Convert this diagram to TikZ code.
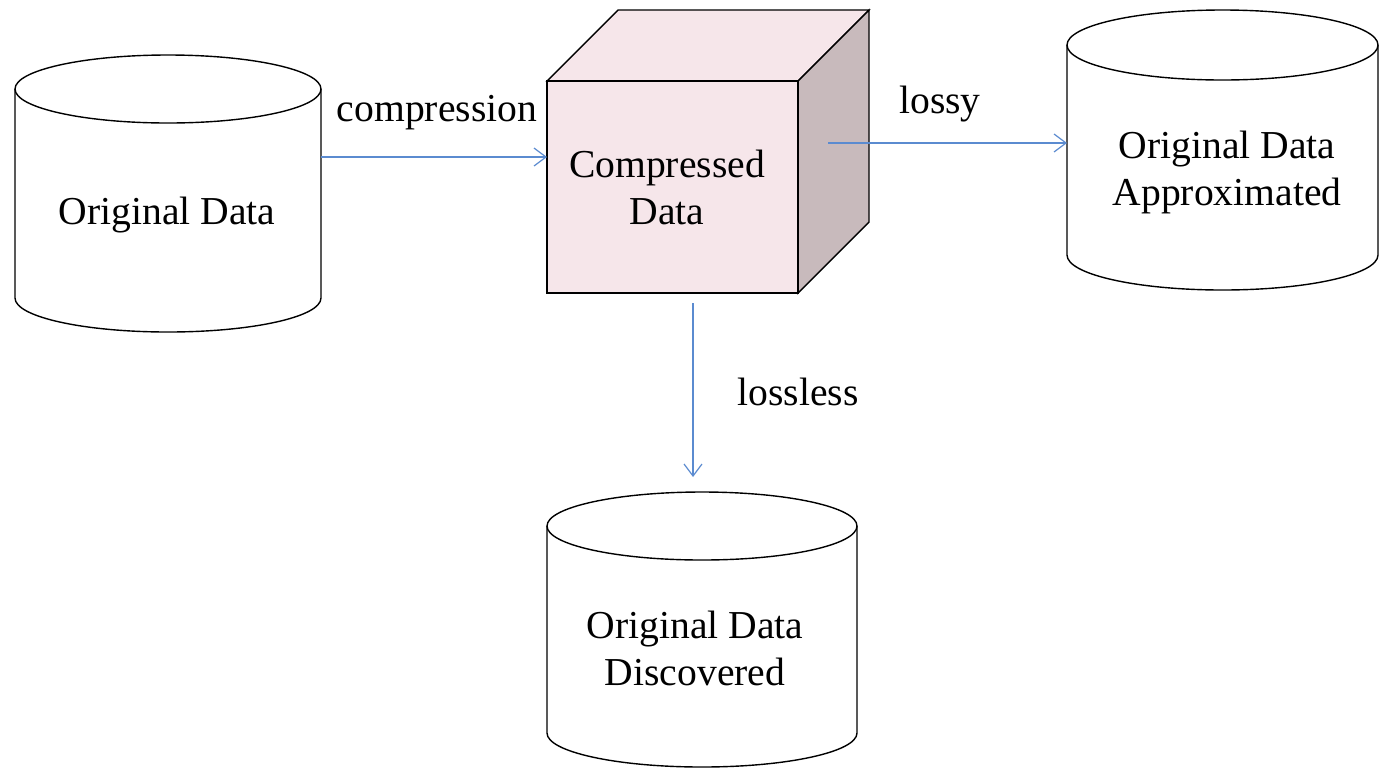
\documentclass[tikz,border=0pt]{standalone}
\usepackage{fontspec}
\setmainfont{Liberation Serif}
\usetikzlibrary{arrows.meta}
\definecolor{arrowblue}{HTML}{5B8BD0}
\definecolor{frontpink}{HTML}{F6E6EA}
\definecolor{sidegray}{HTML}{C8BABC}
\tikzset{
  txt/.style={align=center, inner sep=0pt, font=\fontsize{19.8}{23.5}\selectfont},
  outline/.style={draw=black, line width=0.7pt},
  flow/.style={draw=arrowblue, line width=0.6pt, -{Straight Barb[length=6pt,width=9pt]}},
}
\begin{document}
\begin{tikzpicture}[x=0.5pt,y=-0.5pt]
\useasboundingbox (0,0) rectangle (1380,767);
\fill[white] (0,0) rectangle (1380,767);
% cylinder 1
\draw[outline, fill=white] (15,89) -- (15,298) arc[start angle=180,end angle=0,x radius=153,y radius=34] -- (321,89);
\draw[outline] (168,89) ellipse [x radius=153, y radius=34];
% cylinder 2
\draw[outline, fill=white] (1067,45) -- (1067,255) arc[start angle=180,end angle=0,x radius=155.5,y radius=35] -- (1378,45);
\draw[outline] (1222.5,45) ellipse [x radius=155.5, y radius=35];
% cylinder 3
\draw[outline, fill=white] (547,526) -- (547,733) arc[start angle=180,end angle=0,x radius=155,y radius=34] -- (857,526);
\draw[outline] (702,526) ellipse [x radius=155, y radius=34];
% cube
\draw[outline, fill=frontpink] (547,81) -- (618,10) -- (869,10) -- (798,81) -- cycle;
\draw[outline, fill=sidegray] (798,81) -- (869,10) -- (869,222) -- (798,293) -- cycle;
\draw[outline, fill=frontpink] (547,81) rectangle (798,293);
% texts
\node[txt] (orig) at (167,215) {Original Data};
\node[txt] (comp) at (667,187) {Compressed\\Data};
\node[txt] (approx) at (1227,172) {Original Data\\Approximated};
\node[txt] (disc) at (695,648) {Original Data\\Discovered};
% arrow endpoints
\coordinate (a1s) at (321,157);
\coordinate (a1e) at (547,157);
\coordinate (a2s) at (828,143);
\coordinate (a2e) at (1067,143);
\coordinate (a3s) at (693,303);
\coordinate (a3e) at (693,477);
\draw[flow] (a1s) -- (a1e);
\draw[flow] (a2s) -- (a2e);
\draw[flow] (a3s) -- (a3e);
% labels
\node[txt] (lcomp) at (437,113) {compression};
\node[txt] (llossy) at (940,104) {lossy};
\node[txt] (lloss) at (798,392) {lossless};
\end{tikzpicture}
\end{document}
